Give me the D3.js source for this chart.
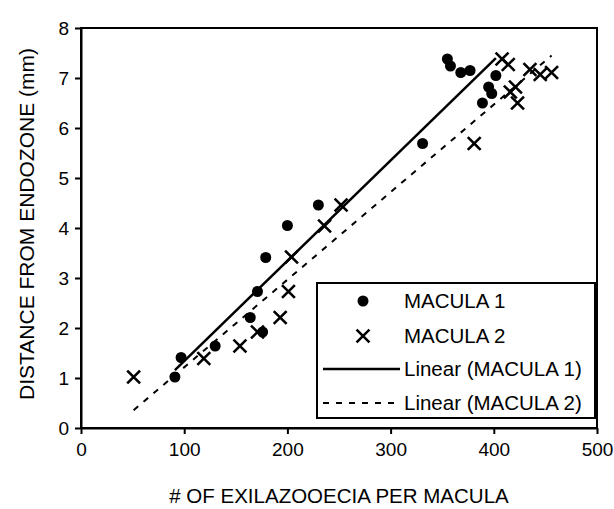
<!DOCTYPE html>
<html lang="en">
<head>
    <meta charset="UTF-8">
    <title>Distance from endozone vs exilazooecia</title>
    <style>
        body { margin: 0; background: #fff; }
        svg { display: block; font-family: 'Liberation Sans', Arial, sans-serif; }
        .axis path, .axis line { stroke: #000; stroke-width: 2; }
        .axis text { font-size: 19px; fill: #000; }
        .trend1 { fill: none; stroke: #000; stroke-width: 2.5; }
        .trend2 { fill: none; stroke: #000; stroke-width: 2; stroke-dasharray: 6 7; }
        .dot { fill: #000; }
        .cross { stroke: #000; stroke-width: 2.6; }
    </style>
</head>
<body>
    <script src="https://d3js.org/d3.v7.min.js"></script>
    <script>
        // Data
        const macula1X = [91, 97, 130, 164, 171, 176, 179, 200, 230, 331, 355, 358, 368, 377, 389, 395, 398, 402];
        const macula1Y = [1.02, 1.41, 1.64, 2.21, 2.73, 1.92, 3.41, 4.05, 4.46, 5.69, 7.38, 7.24, 7.11, 7.15, 6.50, 6.82, 6.69, 7.05];
        const macula2X = [51, 119, 154, 171, 193, 201, 204, 236, 252, 381, 408, 414, 416, 421, 423, 435, 445, 456];
        const macula2Y = [1.02, 1.39, 1.64, 1.92, 2.21, 2.73, 3.42, 4.04, 4.46, 5.69, 7.38, 7.27, 6.72, 6.82, 6.50, 7.17, 7.07, 7.11];
        const xTicks = [0, 100, 200, 300, 400, 500];
        const yTicks = [0, 1, 2, 3, 4, 5, 6, 7, 8];
        const legendLabels = ['MACULA 1', 'MACULA 2', 'Linear (MACULA 1)', 'Linear (MACULA 2)'];

        const width = 614;
        const height = 509;
        const margin = { top: 28, right: 17, bottom: 81, left: 81 };

        const svg = d3.select('body').append('svg')
            .attr('width', width)
            .attr('height', height);

        const xScale = d3.scaleLinear()
            .domain([0, 500])
            .range([margin.left, width - margin.right]);

        const yScale = d3.scaleLinear()
            .domain([0, 8])
            .range([height - margin.bottom, margin.top]);

        const toPoints = (xs, ys) => xs.map((x, i) => ({ x: x, y: ys[i] }));
        const series1 = toPoints(macula1X, macula1Y);
        const series2 = toPoints(macula2X, macula2Y);

        // least squares fit, drawn over the range of the series
        const fit = (pts) => {
            const mx = d3.mean(pts, (d) => d.x);
            const my = d3.mean(pts, (d) => d.y);
            const sxy = d3.sum(pts, (d) => (d.x - mx) * (d.y - my));
            const sxx = d3.sum(pts, (d) => (d.x - mx) * (d.x - mx));
            const b = sxy / sxx;
            const a = my - b * mx;
            const [x0, x1] = d3.extent(pts, (d) => d.x);
            return [{ x: x0, y: a + b * x0 }, { x: x1, y: a + b * x1 }];
        };

        // plot frame
        svg.append('rect')
            .attr('x', xScale(0))
            .attr('y', yScale(8))
            .attr('width', xScale(500) - xScale(0))
            .attr('height', yScale(0) - yScale(8))
            .attr('fill', 'none')
            .attr('stroke', '#000')
            .attr('stroke-width', 2);

        // axes
        svg.append('g')
            .attr('class', 'axis')
            .attr('transform', `translate(0,${yScale(0)})`)
            .call(d3.axisBottom(xScale).tickValues(xTicks).tickSize(6).tickPadding(9).tickSizeOuter(0));

        svg.append('g')
            .attr('class', 'axis')
            .attr('transform', `translate(${xScale(0)},0)`)
            .call(d3.axisLeft(yScale).tickValues(yTicks).tickSize(6).tickPadding(6).tickSizeOuter(0));

        // axis titles
        svg.append('text')
            .attr('x', (xScale(0) + xScale(500)) / 2)
            .attr('y', 503)
            .attr('text-anchor', 'middle')
            .style('font-size', '20.5px')
            .text('# OF EXILAZOOECIA PER MACULA');

        svg.append('text')
            .attr('transform', 'translate(34,224) rotate(-90)')
            .attr('text-anchor', 'middle')
            .style('font-size', '21px')
            .text('DISTANCE FROM ENDOZONE (mm)');

        // trend lines
        const line = d3.line()
            .x((d) => xScale(d.x))
            .y((d) => yScale(d.y));

        svg.append('path').datum(fit(series1)).attr('class', 'trend1').attr('d', line);
        svg.append('path').datum(fit(series2)).attr('class', 'trend2').attr('d', line);

        // markers
        svg.selectAll('.dot')
            .data(series1)
            .enter()
            .append('circle')
            .attr('class', 'dot')
            .attr('cx', (d) => xScale(d.x))
            .attr('cy', (d) => yScale(d.y))
            .attr('r', 5.5);

        const cross = d3.symbol().type(d3.symbolX).size(110);
        svg.selectAll('.cross')
            .data(series2)
            .enter()
            .append('path')
            .attr('class', 'cross')
            .attr('transform', (d) => `translate(${xScale(d.x)},${yScale(d.y)})`)
            .attr('d', cross);

        // legend
        const legend = svg.append('g');
        legend.append('rect')
            .attr('x', 317)
            .attr('y', 283)
            .attr('width', 278)
            .attr('height', 135)
            .attr('fill', '#fff')
            .attr('stroke', '#000')
            .attr('stroke-width', 2);

        const rowY = [301, 336, 369, 403];
        legend.append('circle').attr('class', 'dot').attr('cx', 363).attr('cy', rowY[0]).attr('r', 5.5);
        legend.append('path').attr('class', 'cross')
            .attr('transform', `translate(363,${rowY[1]})`)
            .attr('d', cross);
        legend.append('line').attr('class', 'trend1')
            .attr('x1', 323).attr('x2', 400).attr('y1', rowY[2]).attr('y2', rowY[2]);
        legend.append('line').attr('class', 'trend2')
            .attr('x1', 323).attr('x2', 400).attr('y1', rowY[3]).attr('y2', rowY[3]);

        legend.selectAll('.legend-label')
            .data(legendLabels)
            .enter()
            .append('text')
            .attr('class', 'legend-label')
            .attr('x', 404)
            .attr('y', (d, i) => rowY[i])
            .attr('dy', '0.36em')
            .style('font-size', '20.5px')
            .text((d) => d);
    </script>
</body>
</html>
